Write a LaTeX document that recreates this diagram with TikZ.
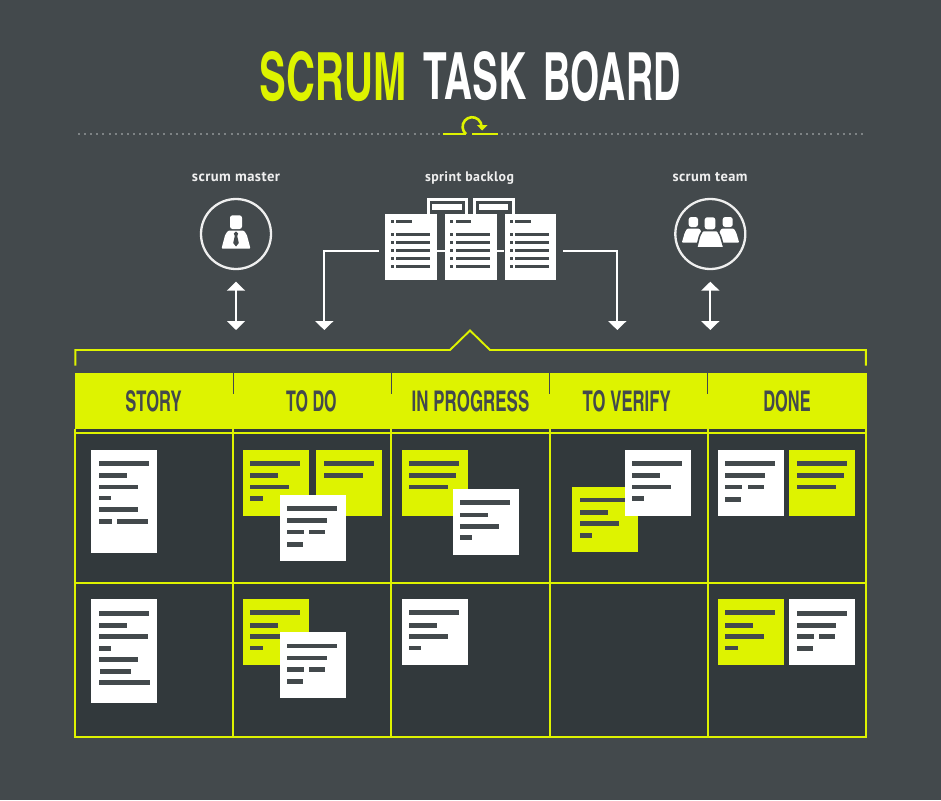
\documentclass[tikz,border=0pt]{standalone}
\usepackage{fontspec}
\usepackage{graphicx}
\usetikzlibrary{arrows.meta}
\setmainfont{PT Sans}
\newfontfamily\din{TeX Gyre Heros Cn}
\definecolor{pagebg}{HTML}{43494C}
\definecolor{cellbg}{HTML}{32393C}
\definecolor{lime}{HTML}{DEF300}
\definecolor{labelc}{HTML}{EFEFEF}
\definecolor{dotc}{HTML}{7E8385}
\tikzset{
  cardw/.style={fill=white,inner sep=0pt,minimum width=66.1pt,anchor=north west},
  cardy/.style={fill=lime,inner sep=0pt,minimum width=66.1pt,anchor=north west},
  docbox/.style={fill=white,inner sep=0pt,minimum width=51.8pt,minimum height=66pt,anchor=north west},
  fitted/.style={inner sep=0pt,outer sep=0pt},
  grid/.style={draw=lime,line width=2pt},
  tick/.style={draw=pagebg,line width=1.5pt},
  conn/.style={draw=white,line width=2pt,-{Triangle[width=18pt,length=9pt]}},
  connb/.style={draw=white,line width=2pt,{Triangle[width=18pt,length=9pt]}-{Triangle[width=18pt,length=9pt]}},
  ring/.style={draw=labelc,line width=2.3pt,circle,inner sep=0pt,minimum size=70pt},
  tabo/.style={draw=white,line width=3.2pt},
}
% name, x1, x2, y1, y2, colour, text
\newcommand{\fitnode}[7]{\node[fitted,text=#6] (#1) at ({(#2+#3)/2},{(#4+#5)/2})
  {\resizebox{\dimexpr#3pt-#2pt\relax}{\dimexpr#5pt-#4pt\relax}{\din\bfseries #7}};}
% name, x, y, height, style, bars y/xoff/w
\newcommand{\card}[6]{\node[#5,minimum height=#4pt] (#1) at (#2-0.4,#3-0.3) {};
  \edef\barlist{#6}%
  \foreach \by/\bx/\bw in \barlist {\fill[pagebg] (#2+7.2+\bx,#3+\by-2.5) rectangle ++(\bw,4.9);}}
\newcommand{\docu}[2]{\node[docbox] (#1) at (#2,213.3) {};
  \fill[pagebg] (#2+5.7,220.2) rectangle ++(2.8,3);
  \fill[pagebg] (#2+11,220.2) rectangle ++(15.7,3);
  \foreach \dy in {234.7,242.5,250.4,258.4,266.7} {
    \fill[pagebg] (#2+5.7,\dy-1.5) rectangle ++(2.8,3);
    \fill[pagebg] (#2+11,\dy-1.5) rectangle ++(34,3);}}
\newcommand{\person}[7]{% head x1,x2,y1,y2, body: cx, halfwidth bottom, bottom y
  \fill[white,rounded corners=2.5pt] (#1,#3) rectangle (#2,#4);
  \fill[white,rounded corners=1pt] (#5-#6*0.55,#4+1.7) -- (#5+#6*0.55,#4+1.7) -- (#5+#6*0.75,#4+6) -- (#5+#6,#7) -- (#5-#6,#7) -- (#5-#6*0.75,#4+6) -- cycle;}
\def\stdbars{13.3/0/50,25.7/0/28,37/0/39,48.5/0/12.5}
\def\whitebars{13.7/0/50,25.7/0/39.7,37/0/17,37/22.3/16,49.3/0/16}
\begin{document}
\begin{tikzpicture}[x=1pt,y=-1pt]
\useasboundingbox (0,0) rectangle (941,800);
\fill[pagebg] (0,0) rectangle (941,800);
% title
\fitnode{t1}{260}{407}{52}{101}{lime}{SCRUM}
\fitnode{t2}{424}{526.5}{52.5}{100.5}{white}{TASK}
\fitnode{t3}{544}{680.5}{52}{101}{white}{BOARD}
% rule
\draw[dotc,line width=1.8pt,dash pattern=on 2pt off 4.1pt] (78,134) -- (440,134);
\draw[dotc,line width=1.8pt,dash pattern=on 2pt off 4.1pt] (501,134) -- (864,134);
\draw[lime,line width=2.6pt] (443.3,134) -- (466,134);
\draw[lime,line width=2.6pt] (472,134) -- (497.7,134);
\draw[lime,line width=2.6pt] (466,134) arc[start angle=130,end angle=360,radius=9.5];
\fill[lime] (476.8,125) -- (487.6,125) -- (482.2,130.5) -- cycle;
% labels
\node[fitted,text=labelc] (lm) at (236,177) {\resizebox{88pt}{!}{\addfontfeature{LetterSpace=3}\bfseries scrum master}};
\node[fitted,text=labelc] (lb) at (469.5,177.8) {\resizebox{89pt}{!}{\addfontfeature{LetterSpace=3}\bfseries sprint backlog}};
\node[fitted,text=labelc] (lt) at (710,177) {\resizebox{75pt}{!}{\addfontfeature{LetterSpace=3}\bfseries scrum team}};
% circles
\node[ring] (master) at (236,234) {};
\node[ring] (team) at (710.3,234) {};
\person{230}{242}{215.3}{229}{236}{14.5}{248.7}
\fill[pagebg] (236,231.5) -- (238.2,233.5) -- (237.2,236) -- (238.8,243) -- (236,246.5) -- (233.2,243) -- (234.8,236) -- (233.8,233.5) -- cycle;
\person{688.7}{698}{217}{227}{693.3}{11.5}{242.7}
\person{722.7}{732.7}{217}{227}{727.7}{11.5}{242.7}
\draw[pagebg,line width=1.6pt,fill=white,rounded corners=1pt] (702.5,230.5) -- (717.5,230.5) -- (720.5,236) -- (724,248) -- (696.5,248) -- (699.5,236) -- cycle;
\fill[white,rounded corners=2.5pt] (704.7,217.3) rectangle (715.3,229.3);
% backlog tabs
\draw[tabo] (428.2,214) -- (428.2,199.2) -- (466.2,199.2) -- (466.2,214);
\draw[tabo] (474.6,214) -- (474.6,199.2) -- (513.4,199.2) -- (513.4,214);
\fill[white] (432,204.3) rectangle (462,210);
\fill[white] (479.3,204.3) rectangle (508.3,210);
% documents
\docu{doca}{385}
\docu{docb}{444.6}
\docu{docc}{504.3}
\draw[white,line width=2pt] ([yshift=-4pt]doca.east) -- ([yshift=-4pt]docb.west);
\draw[white,line width=2pt] ([yshift=-4pt]docb.east) -- ([yshift=-4pt]docc.west);
% connectors
\coordinate (tipL) at (324.3,330);
\coordinate (tipR) at (617.3,330);
\coordinate (mu) at (236,281.7);
\coordinate (md) at (236,330);
\coordinate (tu) at (710.3,281.7);
\coordinate (td) at (710.3,330);
\draw[conn] ([shift={(-6pt,-4pt)}]doca.west) -| (tipL);
\draw[conn] ([shift={(6.5pt,-4pt)}]docc.east) -| (tipR);
\draw[connb] (mu) -- (md);
\draw[connb] (tu) -- (td);
% bracket
\draw[lime,line width=1.9pt] (75.3,365.5) -- (75.3,350) -- (450,350) -- (470,330.5) -- (490,350) -- (865.8,350) -- (865.8,365.5);
% board
\fill[cellbg] (75,429) rectangle (866,737);
\fill[lime] (74.5,372.7) rectangle (866.6,428.8);
\draw[cellbg,line width=2.2pt] (74.5,430) -- (866,430);
\foreach \vx in {233.3,391.3,549.7,707.7} {\draw[tick] (\vx,372.7) -- (\vx,393.5);}
\draw[grid] (75,433) -- (866,433);
\draw[grid] (75,582.8) -- (866,582.8);
\draw[grid] (74.4,736.7) -- (866.8,736.7);
\foreach \vx in {75.3,233.3,391.3,549.7,707.7,865.8} {\draw[grid] (\vx,429) -- (\vx,737.5);}
% headers
\fitnode{h1}{125.3}{181.7}{390.7}{411.7}{pagebg}{STORY}
\fitnode{h2}{286}{336.7}{390.7}{411.7}{pagebg}{TO DO}
\fitnode{h3}{411.7}{529.3}{390.7}{411.7}{pagebg}{IN PROGRESS}
\fitnode{h4}{582.7}{670.7}{390.7}{411.7}{pagebg}{TO VERIFY}
\fitnode{h5}{763.3}{810.7}{390.7}{411.7}{pagebg}{DONE}
% row 1
\card{s1}{91.3}{450}{103.3}{cardw}{13.3/0/50,25.7/0/28,37/0/39,48/0/12.5,59.7/0/39,71.7/0/13,71.7/18/31}
\card{a1}{243}{450}{65.7}{cardy}{\stdbars}
\card{a2}{316.3}{450}{65.7}{cardy}{13.3/0/50,25.7/0/39.7}
\card{a3}{279.7}{495}{65.7}{cardw}{\whitebars}
\card{b1}{401.7}{450}{65.7}{cardy}{13.3/0/50,25.7/0/47,37/0/39}
\card{b2}{452.7}{489.3}{65.7}{cardw}{\stdbars}
\card{c1}{572.3}{486.7}{65.7}{cardy}{\stdbars}
\card{c2}{624.7}{450}{65.7}{cardw}{\stdbars}
\card{d1}{718}{450}{65.7}{cardw}{\whitebars}
\card{d2}{789.3}{450}{65.7}{cardy}{13.3/0/50,25.7/0/47,37/0/39}
% row 2
\card{s2}{91.3}{599.5}{103.5}{cardw}{13.7/0/50,25.7/0/28,37.3/0/49,48.7/0/12.5,60/0/39,72/1/31,82.7/0/51}
\card{e1}{243}{599.5}{65.7}{cardy}{\stdbars}
\card{e2}{279.7}{632.3}{65.7}{cardw}{\whitebars}
\card{f1}{401.7}{599.5}{65.7}{cardw}{\stdbars}
\card{g1}{718}{599.5}{65.7}{cardy}{\stdbars}
\card{g2}{789.3}{599.5}{65.7}{cardw}{\whitebars}
\end{tikzpicture}
\end{document}
